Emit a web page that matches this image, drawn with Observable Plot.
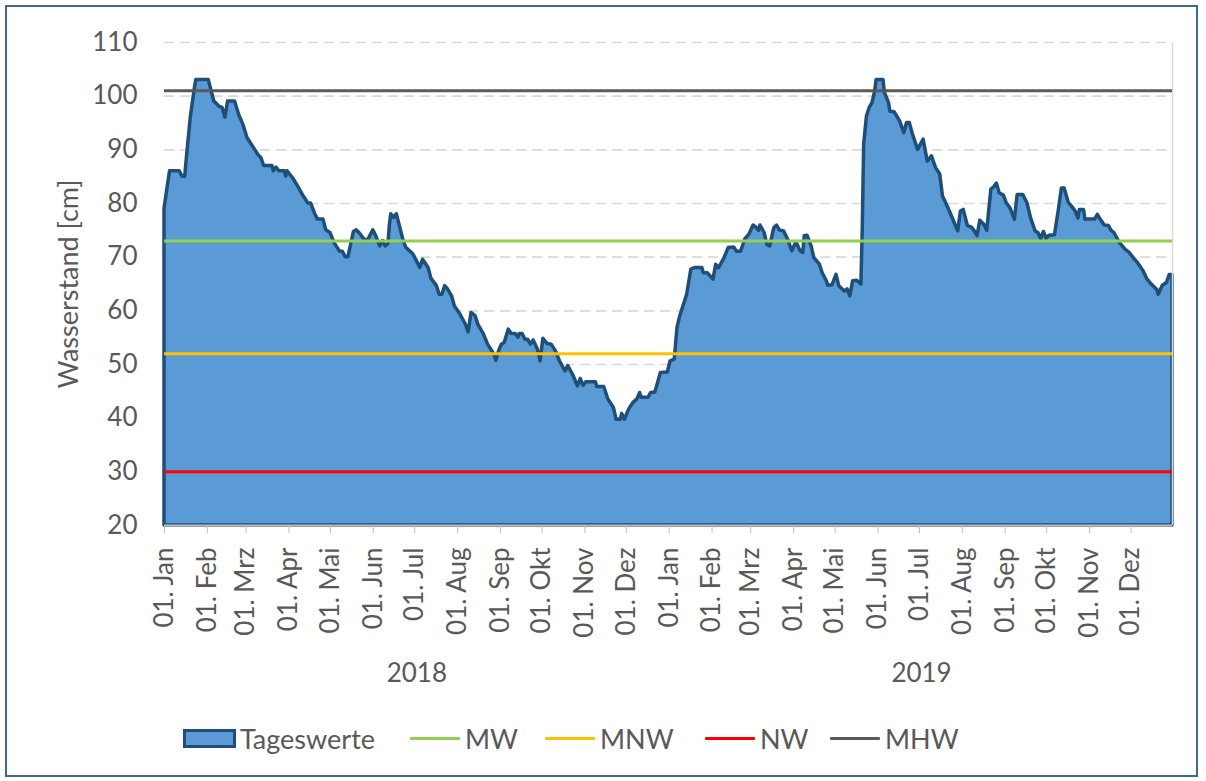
<!DOCTYPE html>
<html>
<head>
<meta charset="utf-8">
<script src="https://cdn.jsdelivr.net/npm/d3@7"></script>
<script src="https://cdn.jsdelivr.net/npm/@observablehq/plot@0.6"></script>
<style>
  html, body { margin: 0; padding: 0; background: #fff; }
  body { width: 1206px; height: 781px; position: relative; overflow: hidden; font-family: Lato, "Open Sans", sans-serif; color: #595959; }
  #frame { position: absolute; left: 5px; top: 5px; width: 1193px; height: 772px; border: 2px solid #41698a; box-sizing: border-box; }
  #chart { position: absolute; left: 0; top: 0; }
  .lg { position: absolute; font-size: 27px; line-height: 27px; color: #595959; white-space: nowrap; }
  .sw { position: absolute; box-sizing: border-box; }
</style>
</head>
<body>
<div id="frame"></div>
<div id="chart"></div>
<div id="legend"></div>
<script>
// ---- data ----
const startDate = "2018-01-01";
const endDate = "2019-12-31";
// day offsets from 01.01.2018 and daily water level readings [cm]
const dayOffset = [
  0, 4, 11, 13, 15, 16, 19, 22, 23, 32, 34, 36, 40, 42, 44, 46, 51, 54, 57, 60,
  64, 68, 70, 72, 78, 79, 81, 83, 87, 88, 89, 93, 97, 100, 104, 106, 109, 111, 115, 117,
  120, 123, 127, 129, 131, 133, 137, 139, 141, 144, 146, 148, 151, 153, 155, 156, 158, 160, 162, 163,
  164, 166, 168, 170, 173, 175, 178, 180, 181, 185, 187, 191, 193, 197, 199, 201, 203, 205, 208, 210,
  214, 218, 220, 222, 225, 227, 231, 234, 238, 240, 242, 244, 246, 249, 251, 254, 256, 257, 259, 261,
  263, 265, 267, 270, 272, 274, 277, 280, 283, 286, 290, 292, 296, 299, 301, 303, 305, 312, 313, 318,
  321, 325, 327, 330, 331, 333, 336, 339, 342, 344, 345, 350, 352, 355, 359, 364, 366, 369, 371, 373,
  378, 381, 384, 389, 390, 393, 397, 399, 401, 405, 408, 412, 414, 417, 420, 423, 426, 428, 430, 431,
  434, 436, 438, 441, 443, 445, 448, 451, 454, 457, 460, 462, 463, 465, 468, 470, 474, 476, 479, 480,
  483, 486, 488, 492, 494, 496, 498, 501, 504, 505, 506, 508, 510, 512, 514, 515, 520, 521, 524, 525,
  528, 532, 535, 537, 539, 541, 545, 549, 552, 555, 558, 561, 563, 567, 570, 574, 576, 578, 581, 584,
  586, 588, 590, 593, 595, 598, 600, 602, 604, 607, 609, 612, 615, 617, 621, 624, 627, 630, 632, 634,
  636, 638, 640, 644, 647, 649, 651, 654, 656, 659, 661, 662, 665, 666, 673, 675, 677, 680, 683, 685,
  687, 691, 695, 698, 701, 704, 708, 711, 714, 718, 719, 722, 725, 727, 729
];
const level = [
  79, 86, 86, 85, 85, 88, 96, 101.5, 103, 103, 101, 99, 98, 97.8, 96, 99, 99, 96.5, 94.7, 92.2,
  90.6, 89, 88.5, 87, 87, 86, 86.7, 86, 86, 85, 86, 84.7, 83, 81.6, 80, 80, 78, 77, 77, 75,
  74.5, 72.6, 71, 71, 70, 70, 74.7, 75, 74.5, 73.5, 73, 73.5, 75, 74, 72.6, 72, 73, 72, 72.5, 76,
  78, 77.3, 78, 76, 73, 71.7, 71, 70.5, 70, 68, 69.5, 68, 66, 64.6, 63, 63, 64.6, 64, 62.7, 60.8,
  59.3, 57.4, 56, 59.6, 59, 57.4, 55.6, 53.7, 52.1, 50.7, 52.5, 53.7, 54, 56.5, 55.7, 55.7, 55, 55.7, 55.7, 54.6,
  54.6, 53.7, 54.5, 52.8, 50.6, 54.8, 53.8, 53.7, 52.5, 50.6, 48.7, 49.7, 47.8, 45.9, 47.3, 46, 46.7, 46.7, 45.8, 45.8,
  43.5, 41.9, 39.7, 39.7, 40.8, 39.7, 41.6, 42.8, 43.5, 44.7, 43.8, 43.8, 44.7, 44.8, 48.4, 48.5, 50.6, 50.9, 56.8, 59,
  63, 67.7, 68, 68, 67, 67, 65.8, 68.6, 67.9, 69.8, 71.7, 71.8, 71, 71, 73.3, 74.2, 75.9, 75.5, 74.9, 75.9,
  74.5, 72.3, 72, 75.4, 75.9, 75, 74.8, 73.3, 71.1, 72.8, 71.1, 70.8, 73.9, 74, 72, 69.8, 68.6, 67, 65.5, 64.7,
  64.7, 66.7, 64.6, 63.6, 64, 62.7, 65.5, 65.6, 64.9, 75.4, 91, 96.2, 97.8, 98.7, 100.9, 103, 103, 100.6, 98.7, 97.1,
  97, 95.3, 93.1, 95, 95, 93.1, 90, 91.9, 87.8, 88.8, 86.6, 85.4, 81.3, 79.1, 77.3, 74.8, 78.5, 78.8, 75.8, 75.5,
  74.8, 73.9, 76.8, 76, 74.9, 82.6, 83, 83.7, 81.9, 81.5, 80.1, 79, 77, 81.6, 81.6, 80.1, 77, 74.8, 74.5, 73.4,
  74.7, 73.4, 74, 74.1, 79.1, 82.8, 82.8, 80.1, 79.5, 78.5, 77.2, 78.8, 78.8, 77, 77, 77.9, 77, 75.9, 75.8, 74.9,
  74.5, 72.6, 71.4, 70.8, 69.8, 68.9, 67.4, 65.8, 64.9, 63.9, 63, 64.7, 65.2, 66.7, 66.7
];
// reference levels
const refNames = ["MW", "MNW", "NW", "MHW"];
const refValues = [73, 52, 30, 101];
const refColors = ["#92d050", "#ffc000", "#ff0000", "#595959"];
// axis labels
const yTicks = [20, 30, 40, 50, 60, 70, 80, 90, 100, 110];
const monthLabels = ["Jan", "Feb", "Mrz", "Apr", "Mai", "Jun", "Jul", "Aug", "Sep", "Okt", "Nov", "Dez"];
const yearLabels = ["2018", "2019"];
const yAxisTitle = "Wasserstand [cm]";
const seriesName = "Tageswerte";

// ---- build ----
const start = new Date(startDate);
const end = new Date(endDate);
const series = dayOffset.map((d, i) => ({date: d3.utcDay.offset(start, d), level: level[i]}));
const refs = refNames.map((n, i) => ({name: n, value: refValues[i], color: refColors[i]}));
const monthTicks = d3.utcMonth.range(start, d3.utcYear.offset(d3.utcYear.floor(end), 1));
const years = yearLabels.map(y => {
  const a = new Date(y + "-01-01"), b = d3.utcYear.offset(a, 1);
  return {label: y, mid: new Date((+a + +b) / 2)};
});

const chart = Plot.plot({
  width: 1206,
  height: 700,
  marginLeft: 164,
  marginRight: 34,
  marginTop: 42,
  marginBottom: 175,
  style: {fontFamily: "Lato, 'Open Sans', sans-serif", fontSize: "26px", color: "#595959", background: "transparent", overflow: "visible"},
  x: {type: "utc", domain: [start, end]},
  y: {domain: [20, 110]},
  color: {type: "identity"},
  marks: [
    Plot.ruleY(yTicks.filter(t => t > 20), {stroke: "#d9d9d9", strokeWidth: 1.6, strokeDasharray: "10,6"}),
    Plot.areaY(series, {x: "date", y1: () => 20, y2: "level", fill: "#5b9bd5", stroke: "#1f4e79", strokeWidth: 3.5, strokeLinejoin: "round", curve: "linear"}),
    Plot.ruleX([end], {y1: 20, y2: 110, stroke: "#d9d9d9", strokeWidth: 1.5}),
    Plot.ruleY(refs, {y: "value", stroke: d => d.color, strokeWidth: 3}),
    Plot.ruleY([20], {stroke: "#bfbfbf", strokeWidth: 2}),
    Plot.axisY({ticks: yTicks, tickSize: 0, tickPadding: 27, label: null, fontSize: 26}),
    Plot.axisX({ticks: monthTicks, tickFormat: d => "01. " + monthLabels[d.getUTCMonth()], tickRotate: -90, tickSize: 8, tickPadding: 14, stroke: "#bfbfbf", label: null, fontSize: 26}),
    Plot.text(years, {x: "mid", text: "label", frameAnchor: "bottom", dy: 156, fontSize: 26}),
    Plot.text([yAxisTitle], {frameAnchor: "left", dx: -95, rotate: -90, textAnchor: "middle", lineAnchor: "middle", fontSize: 27})
  ]
});
document.getElementById("chart").appendChild(chart);

// ---- legend ----
const legend = document.getElementById("legend");
const items = [
  {name: seriesName, kind: "area", sx: 183, tx: 240},
  {name: refs[0].name, color: refs[0].color, kind: "line", sx: 410, tx: 465},
  {name: refs[1].name, color: refs[1].color, kind: "line", sx: 545, tx: 600},
  {name: refs[2].name, color: refs[2].color, kind: "line", sx: 705, tx: 760},
  {name: refs[3].name, color: refs[3].color, kind: "line", sx: 830, tx: 885}
];
for (const it of items) {
  const sw = document.createElement("div");
  sw.className = "sw";
  if (it.kind === "area") {
    Object.assign(sw.style, {left: it.sx + "px", top: "729px", width: "53px", height: "19px", background: "#5b9bd5", border: "3px solid #1f4e79"});
  } else {
    Object.assign(sw.style, {left: it.sx + "px", top: "737px", width: "50px", height: "3px", background: it.color, borderRadius: "1px"});
  }
  legend.appendChild(sw);
  const t = document.createElement("div");
  t.className = "lg";
  t.textContent = it.name;
  Object.assign(t.style, {left: it.tx + "px", top: "725px"});
  legend.appendChild(t);
}
</script>
</body>
</html>
